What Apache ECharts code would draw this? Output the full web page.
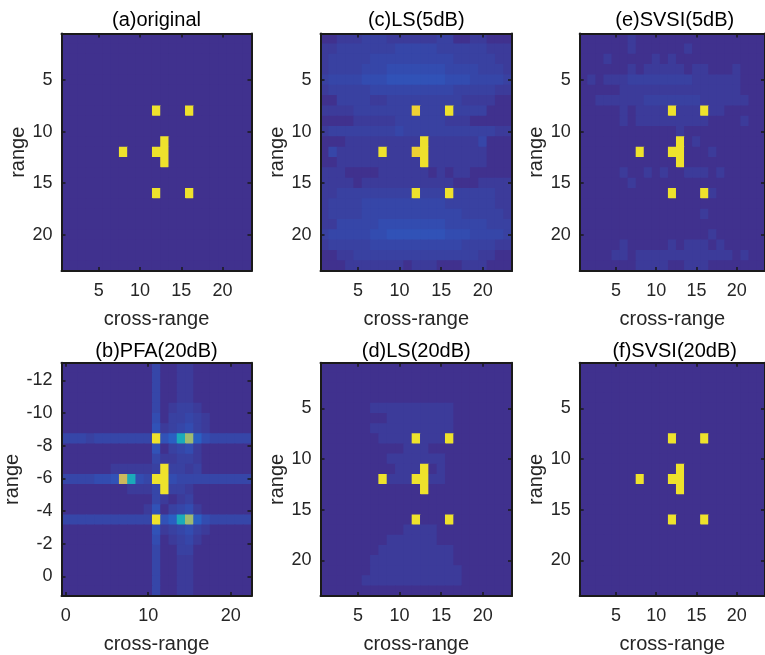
<!DOCTYPE html>
<html><head><meta charset="utf-8">
<script src="https://cdn.jsdelivr.net/npm/echarts@6/dist/echarts.min.js"></script>
<style>html,body{margin:0;padding:0;background:#fff}#chart{width:765px;height:655px}</style>
</head><body><div id="chart"></div>
<script>
// ---------------- DATA ----------------
const titles = ['(a)original', '(c)LS(5dB)', '(e)SVSI(5dB)', '(b)PFA(20dB)', '(d)LS(20dB)', '(f)SVSI(20dB)'];
const cellIndex = [1,2,3,4,5,6,7,8,9,10,11,12,13,14,15,16,17,18,19,20,21,22,23];
const pfaCrossRange = [0,1,2,3,4,5,6,7,8,9,10,11,12,13,14,15,16,17,18,19,20,21,22];
const pfaRange = [-12.77,-12.15,-11.53,-10.91,-10.29,-9.67,-9.04,-8.42,-7.80,-7.18,-6.56,-5.94,
                  -5.32,-4.70,-4.08,-3.46,-2.84,-2.22,-1.60,-0.98,-0.36,0.27,0.89];
const stdTicks = [5, 10, 15, 20];
const pfaXTicks = [0, 10, 20];
const pfaYTicks = [-12, -10, -8, -6, -4, -2, 0];
// normalised image intensity for each cell code
const codeValues = {'0':0, '1':0.025, '2':0.04, '3':0.055, '4':0.07, '5':0.085, '6':0.12,
                    'c':0.42, 'g':0.66, 't':0.76, 'o':0.93, 'y':1};

const originalGrid = [
 "0000000000 0000000000 000","0000000000 0000000000 000","0000000000 0000000000 000",
 "0000000000 0000000000 000","0000000000 0000000000 000","0000000000 0000000000 000",
 "0000000000 0000000000 000",
 "00000000000 y 000 y 0000000",
 "0000000000 0000000000 000","0000000000 0000000000 000",
 "000000000000 y 0000000000",
 "0000000 y 000 yy 0000000000",
 "000000000000 y 0000000000",
 "0000000000 0000000000 000","0000000000 0000000000 000",
 "00000000000 y 000 y 0000000",
 "0000000000 0000000000 000","0000000000 0000000000 000","0000000000 0000000000 000",
 "0000000000 0000000000 000","0000000000 0000000000 000","0000000000 0000000000 000",
 "0000000000 0000000000 000"
];
const ls5dBGrid = [
 "00 111 222 111111 22 00 11 000",
 "11 22222 223333322 2222 111",
 "1 22222 3333333333 22222 11",
 "1 2222 333 4444444 3333 222 1",
 "2 3333 444 5555555 444 3333 2",
 "1 22222 3333333333 22222 11",
 "00 2222 11 222222222 1111 00",
 "1111 2222222 o 222 y 2222 000",
 "0000 11111 222222 111 00000",
 "1 22222222 3 222 22222222 11",
 "000 111111111 y 111111 3 000",
 "0 3 11111 y 111 o y 1111111 000",
 "00 1111111111 y 1111111 000",
 "111 0000 111111 0 1 0 11 00000",
 "1111 0 11111111111 000 1111",
 "11 222222222 y 222 y 22222 11",
 "1 2222 3333333333 222222 11",
 "1 2222 333333333333 22222 1",
 "11 33333 44444444 33333 222",
 "2 33333 44 5555555 444 3333 2",
 "1 22222 33333333333 2222 11",
 "00 11 222222222222222 11 00",
 "000 1111111 0 111 000 111 000"
];
const svsi5dBGrid = [
 "000000 1 0000000000000000",
 "000000 1 000000 1 000000000",
 "000 1 00000 1 0 1 00000000000",
 "000000 1 0 11111 0 11 000 1 000",
 "0 1 0 111 22222222 111111 000",
 "00000 111111111111111 000",
 "00 111111 2222222 111111 00",
 "00000 1 0 1111 y 111 y 11 00000",
 "00000 1 0 111111111 0000 1 00",
 "000000000000 1 0000000000",
 "000000000000 y 0 1 00000000",
 "0000000 y 000 yy 000 1 000000",
 "000000000000 y 0000000000",
 "00000 1 00 1 0 1 00 111 0 1 00000",
 "000000 1 0000000000000000",
 "00000000000 y 000 y 1 000000",
 "0000000000 0000000000 000",
 "000000000000000 1 0000000",
 "0000000000 0000000000 000",
 "0000000000000000 1 000000",
 "00000 1 00000 1 0 111 0 1 00000",
 "0000 11 0 111111111111 0 1 00",
 "0000000 1111 00 111 0000000"
];
const pfa20dBGrid = [
 "00000000000 3 00 11 0000000",
 "00000000000 3 00 11 0000000",
 "00000000000 3 00 11 0000000",
 "00000000000 3 00 11 0000000",
 "00000000000 3 0 1 22 1 000000",
 "00000000000 4 0 2 23 2 1 00000",
 "00000000000 5 1 2 34 2 1 00000",
 "333 2 3333333 y 5 6 c g 6 4 33333",
 "00000000000 5 0 2 34 1 000000",
 "00000000000 3 1 1 22 1 000000",
 "000000 11111 2 y 2 21 2 000000",
 "3333 44 5 t c 4 3 y y 4 333333333",
 "00000000 111 3 y 2 2 1 0000000",
 "00000000000 3 1 0 1 2 0000000",
 "0000000000 1 5 0 2 3 4 1 000000",
 "33333333333 y 5 6 c g 6 4 33333",
 "00000000000 5 1 2 34 2 1 00000",
 "00000000000 4 0 1 23 1 000000",
 "00000000000 3 00 22 0000000",
 "00000000000 3 00 11 0000000",
 "00000000000 3 00 11 0000000",
 "00000000000 3 00 11 0000000",
 "00000000000 3 00 11 0000000"
];
const ls20dBGrid = [
 "0000000000 0000000000 000","0000000000 0000000000 000","0000000000 0000000000 000",
 "0000000000 0000000000 000",
 "000000 1111111111 0000000",
 "00000000 11111111 0000000",
 "000000 1111111111 0000000",
 "0000000 1111 y 111 y 0000000",
 "0000000000 111 0000000000",
 "00000000 1111111 00000000",
 "000000000 111 y 0 1 00000000",
 "0000000 y 111 yy 11 00000000",
 "000000000000 y 0000000000",
 "0000000000 0000000000 000","0000000000 0000000000 000",
 "00000000000 y 000 y 0000000",
 "0000000000 1111 000000000",
 "00000000 111111 000000000",
 "0000000 111111111 0000000",
 "000000 1111111111 0000000",
 "000000 11111111111 000000",
 "00000 111111111111 000000",
 "0000000000 0000000000 000"
];
const svsi20dBGrid = [
 "0000000000 0000000000 000","0000000000 0000000000 000","0000000000 0000000000 000",
 "0000000000 0000000000 000","0000000000 0000000000 000","0000000000 0000000000 000",
 "0000000000 0000000000 000",
 "00000000000 y 000 y 0000000",
 "0000000000 0000000000 000","0000000000 0000000000 000",
 "000000000000 y 0000000000",
 "0000000 y 000 yy 0000000000",
 "000000000000 y 0000000000",
 "0000000000 0000000000 000","0000000000 0000000000 000",
 "00000000000 y 000 y 0000000",
 "0000000000 0000000000 000","0000000000 0000000000 000","0000000000 0000000000 000",
 "0000000000 0000000000 000","0000000000 0000000000 000","0000000000 0000000000 000",
 "0000000000 0000000000 000"
];

// ---------------- LAYOUT / STYLE ----------------
const FONT = '"Liberation Sans", Arial, Helvetica, sans-serif';
const AX = '#262626';
const palette = ['#40318E','#2E58BE','#1C7AD4','#1B96CB','#13A8C0','#3DB49D',
                 '#81BA7C','#B4BB68','#DCB857','#EFCB36','#EEE22C'];
const colLeft = [61.5, 320.5, 579.7];
const colWidth = [190, 191.5, 190];
const rowTop = [33.5, 362.7];
const rowHeight = [237.5, 235.7];
const titleY = [20, 351];

const panels = [
  {grid: originalGrid, xs: cellIndex, ys: cellIndex, xt: stdTicks, yt: stdTicks},
  {grid: ls5dBGrid,    xs: cellIndex, ys: cellIndex, xt: stdTicks, yt: stdTicks},
  {grid: svsi5dBGrid,  xs: cellIndex, ys: cellIndex, xt: stdTicks, yt: stdTicks},
  {grid: pfa20dBGrid,  xs: pfaCrossRange, ys: pfaRange, xt: pfaXTicks, yt: pfaYTicks},
  {grid: ls20dBGrid,   xs: cellIndex, ys: cellIndex, xt: stdTicks, yt: stdTicks},
  {grid: svsi20dBGrid, xs: cellIndex, ys: cellIndex, xt: stdTicks, yt: stdTicks}
];

function buildData(p) {
  const out = [];
  p.grid.forEach((row, r) => {
    const s = row.replace(/\s+/g, '');
    if (s.length !== 23) console.error('bad row length', r, s.length);
    for (let c = 0; c < s.length; c++) out.push([p.xs[c], p.ys[r], codeValues[s[c]]]);
  });
  return out;
}
function makeRenderer(dx, dy) {
  return function (params, api) {
    const x = api.value(0), y = api.value(1);
    const p1 = api.coord([x - dx / 2, y - dy / 2]);
    const p2 = api.coord([x + dx / 2, y + dy / 2]);
    const color = api.visual('color');
    const pad = 0.4;
    return {
      type: 'rect',
      shape: {x: Math.min(p1[0], p2[0]) - pad, y: Math.min(p1[1], p2[1]) - pad,
              width: Math.abs(p2[0] - p1[0]) + 2 * pad, height: Math.abs(p2[1] - p1[1]) + 2 * pad},
      style: {fill: color}
    };
  };
}

const grids = [], xAxes = [], yAxes = [], series = [], graphics = [];
panels.forEach((p, i) => {
  const col = i % 3, row = Math.floor(i / 3);
  const left = colLeft[col], width = colWidth[col], top = rowTop[row], height = rowHeight[row];
  grids.push({left, top, width, height, containLabel: false, show: true,
              backgroundColor: palette[0], borderWidth: 0});
  const dx = p.xs[1] - p.xs[0], dy = p.ys[1] - p.ys[0];
  const xMin = p.xs[0] - dx / 2, xMax = p.xs[p.xs.length - 1] + dx / 2;
  const yMin = p.ys[0] - dy / 2, yMax = p.ys[p.ys.length - 1] + dy / 2;
  const line = {show: true, onZero: false, lineStyle: {color: '#1a1a1a', width: 2}};
  const tick = (vals) => ({show: true, inside: true, length: 4, customValues: vals, lineStyle: {color: '#1a1a1a', width: 1.5}});
  const nameStyle = {fontSize: 20, color: AX, fontFamily: FONT};
  xAxes.push({type: 'value', gridIndex: i, position: 'bottom', min: xMin, max: xMax, z: 5,
    axisLine: line, axisTick: tick(p.xt), splitLine: {show: false},
    axisLabel: {show: true, customValues: p.xt, fontSize: 18, color: AX, margin: 11, fontFamily: FONT},
    name: 'cross-range', nameLocation: 'middle', nameGap: 38, nameTextStyle: nameStyle});
  xAxes.push({type: 'value', gridIndex: i, position: 'top', min: xMin, max: xMax, z: 5,
    axisLine: line, axisTick: tick(p.xt), splitLine: {show: false}, axisLabel: {show: false}});
  yAxes.push({type: 'value', gridIndex: i, position: 'left', min: yMin, max: yMax, inverse: true, z: 5,
    axisLine: line, axisTick: tick(p.yt), splitLine: {show: false},
    axisLabel: {show: true, customValues: p.yt, fontSize: 18, color: AX, margin: 9, fontFamily: FONT},
    name: 'range', nameLocation: 'middle', nameGap: 31, nameTextStyle: nameStyle});
  yAxes.push({type: 'value', gridIndex: i, position: 'right', min: yMin, max: yMax, inverse: true, z: 5,
    axisLine: line, axisTick: tick(p.yt), splitLine: {show: false}, axisLabel: {show: false}});
  series.push({type: 'custom', name: titles[i], xAxisIndex: 2 * i, yAxisIndex: 2 * i,
    renderItem: makeRenderer(dx, dy), data: buildData(p), encode: {x: 0, y: 1},
    clip: true, z: 1, silent: true});
  graphics.push({type: 'text', x: left + width / 2, y: titleY[row], silent: true,
    style: {text: titles[i], align: 'center', verticalAlign: 'middle', fontSize: 20,
            fontFamily: FONT, fill: '#000'}});
});

const chart = echarts.init(document.getElementById('chart'), null, {renderer: 'canvas'});
chart.setOption({
  animation: false,
  backgroundColor: '#fff',
  grid: grids, xAxis: xAxes, yAxis: yAxes, series,
  visualMap: {type: 'continuous', show: false, min: 0, max: 1, dimension: 2,
              seriesIndex: [0, 1, 2, 3, 4, 5], inRange: {color: palette}},
  graphic: graphics
});
</script></body></html>
